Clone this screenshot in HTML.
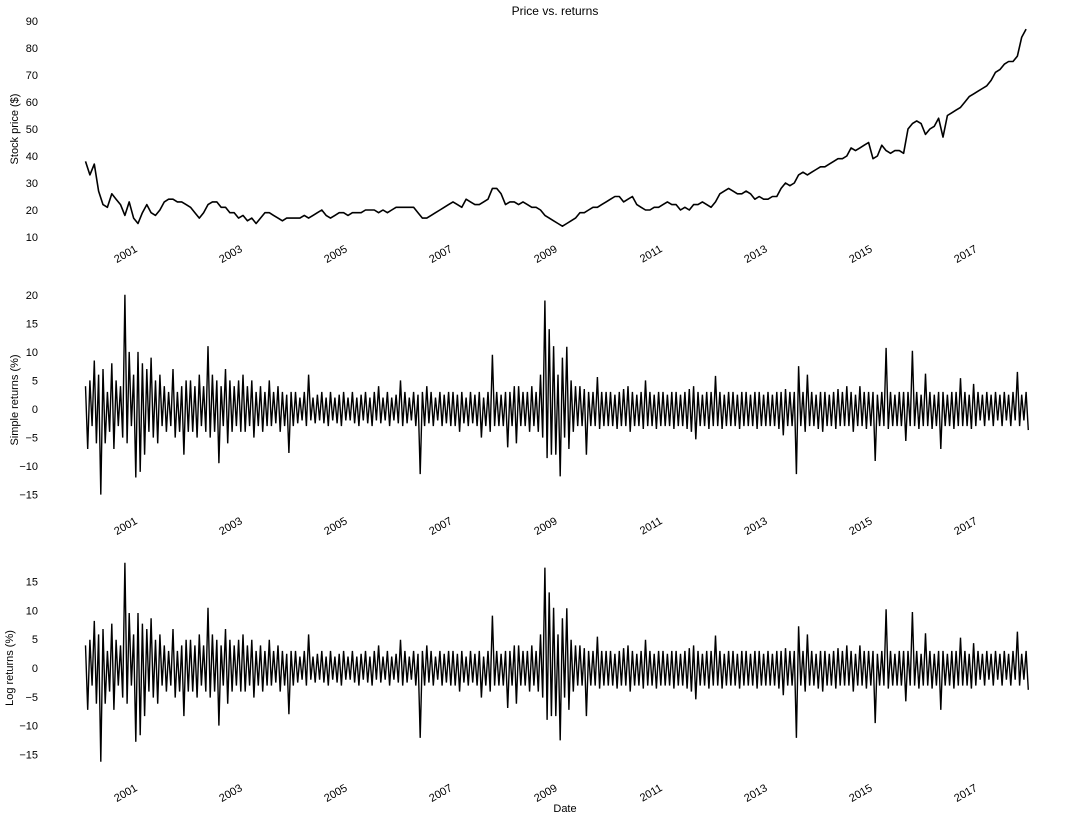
<!DOCTYPE html>
<html><head><meta charset="utf-8"><style>
html,body{margin:0;padding:0;background:#fff}
svg{display:block;font-family:"Liberation Sans",sans-serif}
</style></head><body>
<svg id="chart" width="1080" height="819" viewBox="0 0 1080 819" xmlns="http://www.w3.org/2000/svg">
<text x="555" y="15" font-size="12" text-anchor="middle">Price vs. returns</text>
<text x="565" y="812" font-size="11" text-anchor="middle">Date</text>
<text transform="translate(18,129) rotate(-90)" font-size="11" text-anchor="middle">Stock price ($)</text>
<text transform="translate(18,400) rotate(-90)" font-size="11" text-anchor="middle">Simple returns (%)</text>
<text transform="translate(13,668) rotate(-90)" font-size="11" text-anchor="middle">Log returns (%)</text>
</svg>
<script>
const yearTicks = [2001,2003,2005,2007,2009,2011,2013,2015,2017];
const priceTicks = [10,20,30,40,50,60,70,80,90];
const simpleTicks = [-15,-10,-5,0,5,10,15,20];
const logTicks = [-15,-10,-5,0,5,10,15];
const startYear = 2000;
const price = [
38,33,37,27,22,21,26,24,22,18,23,17,
15,19,22,19,18,20,23,24,24,23,23,22,
21,19,17,19,22,23,23,21,21,19,19,17,
18,16,17,15,17,19,19,18,17,16,17,17,
17,17,18,17,18,19,20,18,17,18,19,19,
18,19,19,19,20,20,20,19,20,19,20,21,
21,21,21,21,19,17,17,18,19,20,21,22,
23,22,21,24,23,22,22,23,24,28,28,26,
22,23,23,22,23,22,21,21,20,18,17,16,
15,14,15,16,17,19,19,20,21,21,22,23,
24,25,25,23,24,25,22,21,20,20,21,21,
22,23,22,22,20,21,20,22,22,23,22,21,
23,26,27,28,27,26,26,27,26,24,25,24,
24,25,25,28,30,29,30,33,34,33,34,35,
36,36,37,38,39,39,40,43,42,43,44,45,
39,40,44,42,41,42,42,41,50,52,53,52,
48,50,51,54,47,55,56,57,58,60,62,63,
64,65,66,68,71,72,74,75,75,77,84,87];
const retHigh = [
4,5,8.5,6,7,3,8,5,4,20,10,6,
10,8,7,9,5,6,4,3,7,3,4,5,
5,4,6,4,11,6,5,4,7,5,4,5,
6,4,5,3,4,3,5,3,4,3,2.5,3,
3,2,3,6,2,2.5,3,2,3,2,2.5,3,
2,3,2,2.5,3,2,3,4,2,3,2,2.5,
5,3,2,3,2.5,3,4,3,2,3,2.5,3,
3,2.5,3,2,3,2.5,3,2,3,9.5,3,2.5,
3,3,4,4,3,3,4,3,6,19,14,11,
6,9,10.9,5,4,4,3.5,3,3,5.6,3,3,
3,2.5,3,3.5,4,3,2.5,3,5,3,2.5,3,
3,2.5,3,3,2.5,3,3.5,4,3,2.5,3,3,
5.8,3,2.5,3,3,2.5,3,3,2.5,3,3,2.5,
3,2.5,3,3,3.5,3,3,7.5,3,6,3,2.5,
3,3,2.5,3,3.5,3,4,3,2.5,4,3,3,
3,2.5,3,10.7,3,2.5,3,3,3,10.2,3,2.5,
6.2,3,2.5,3,3,2.5,3,3,5.4,3,2.5,4.4,
3,2.5,3,2.5,3,2.5,3,2.5,3,6.5,2.5,3];
const retLow = [
-7,-3,-6,-15,-6,-4,-7,-3,-5,-6,-3,-12,
-11,-8,-4,-5,-6,-3,-4,-3,-5,-4,-8,-4,
-4,-5,-3,-4,-5,-4,-9.5,-3,-6,-4,-3,-4,
-4,-3,-5,-3,-4,-3,-3,-2.5,-4,-3,-7.7,-3,
-2.5,-2,-3,-2,-2.5,-2,-2.5,-3,-2,-2.5,-3,-2,
-2,-2.5,-3,-2,-2.5,-3,-2,-2.5,-2,-3,-2,-2.5,
-3,-2.5,-2,-3,-11.4,-3,-2.5,-3,-2,-3,-2.5,-3,
-3,-4,-2.5,-3,-2.5,-3,-5,-3,-4,-3,-3,-3,
-6.7,-3,-6,-3,-3,-4,-3,-4,-5,-8.6,-8,-8,
-11.8,-5,-7,-4,-3,-3,-8,-3,-3,-3.5,-3,-3,
-3,-3.5,-3,-3,-4,-3,-3,-3.5,-3,-3,-3.5,-3,
-3,-3,-3.5,-3,-3,-3.5,-4,-5.3,-3,-3,-3.5,-3,
-3,-3.5,-3,-3,-3,-3.5,-3,-3,-3,-3.5,-3,-3,
-3,-3,-3.5,-4.6,-3,-3,-11.4,-3,-4,-3,-3,-3.5,
-4,-3,-3,-3.5,-3,-3,-3,-4,-3,-3,-3.5,-3,
-9.1,-3,-3,-3.5,-3,-3,-3,-5.6,-3,-3,-3.5,-3,
-3,-3.5,-3,-7,-3,-3,-3.5,-3,-3,-3,-3.5,-3,
-2,-3,-2,-3,-2,-3,-2,-3,-2,-3,-2,-3.7];

const NS = "http://www.w3.org/2000/svg";
const svg = document.getElementById('chart');
const xOf = t => 85.5 + 52.5 * (t - startYear);
const yPrice = v => 237 - (v - 10) * 2.7;
const ySimple = v => 409 - v * 5.71;
const yLog = v => 668 - v * 5.77;

function mk(tag, attrs){ const e=document.createElementNS(NS,tag); for(const k in attrs) e.setAttribute(k,attrs[k]); svg.appendChild(e); return e; }

function yTicks(ticks, yf, name){
  ticks.forEach(v=>{
    const t = mk('text',{x:38,y:yf(v)+4,'font-size':11,'text-anchor':'end'});
    t.textContent = v < 0 ? '\u2212'+Math.abs(v) : String(v);
    
    
  });
}
function xTicks(yTop, name){
  yearTicks.forEach(yr=>{
    const x = xOf(yr);
    const t = mk('text',{transform:`translate(${x},${yTop}) rotate(-30)`,'font-size':11,'text-anchor':'end'});
    t.textContent = String(yr);
    
    
  });
}
yTicks(priceTicks, yPrice, 'price');
yTicks(simpleTicks, ySimple, 'simple-returns');
yTicks(logTicks, yLog, 'log-returns');
xTicks(251, 'price');
xTicks(523, 'simple-returns');
xTicks(790, 'log-returns');

let d = '';
price.forEach((p,i)=>{ const x=xOf(startYear+i/12); d += (i?'L':'M')+x.toFixed(1)+','+yPrice(p).toFixed(1); });
const pl = mk('path',{d:d,fill:'none',stroke:'#000','stroke-width':1.6,'stroke-linejoin':'round'});



function retPath(yf, tf, name){
  let s='';
  retHigh.forEach((h,i)=>{
    const x1 = xOf(startYear+i/12), x2 = xOf(startYear+(i+0.5)/12);
    s += (i?'L':'M')+x1.toFixed(1)+','+yf(tf(h)).toFixed(1)+'L'+x2.toFixed(1)+','+yf(tf(retLow[i])).toFixed(1);
  });
  const p = mk('path',{d:s,fill:'none',stroke:'#000','stroke-width':1.4});
  
  
}
retPath(ySimple, v=>v, 'simple-returns-line');
retPath(yLog, v=>100*Math.log(1+v/100), 'log-returns-line');
</script>
</body></html>
